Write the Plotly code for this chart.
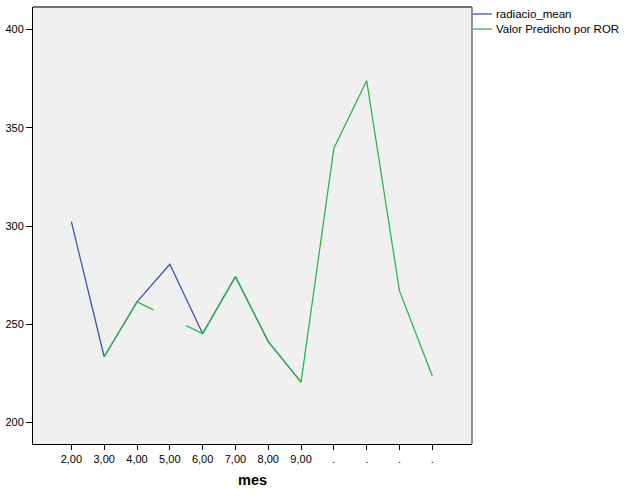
import plotly.graph_objects as go

# categorias del eje x (mes); los meses sin valor salen como "."
mes_labels = ["2,00", "3,00", "4,00", "5,00", "6,00", "7,00", "8,00", "9,00", ".", ".", ".", "."]
mes_pos = list(range(len(mes_labels)))

radiacio_mean = [302.2, 233.5, 261.4, 280.6, 245.3, 274.3, 241.2, 220.6, None, None, None, None]
valor_predicho = [None, 233.5, 261.4, None, 245.3, 274.3, 241.2, 220.6, 339.6, 374.0, 267.0, 223.7]

series_names = ["radiacio_mean", "Valor Predicho por ROR"]
azul = "#3E58AC"
verde = "#2EB848"


def con_tramos(xs, ys):
    # SPSS deja un trozo de linea a cada lado de un valor perdido
    out_x, out_y = [], []
    for i, (x, y) in enumerate(zip(xs, ys)):
        if y is not None:
            out_x.append(x)
            out_y.append(y)
            continue
        if 0 < i < len(ys) - 1 and ys[i - 1] is not None and ys[i + 1] is not None:
            a, b = ys[i - 1], ys[i + 1]
            out_x += [xs[i] - 0.5, None, xs[i] + 0.5]
            out_y += [a + (b - a) * 0.25, None, a + (b - a) * 0.75]
        else:
            out_x.append(x)
            out_y.append(None)
    return out_x, out_y


gx, gy = con_tramos(mes_pos, valor_predicho)

fig = go.Figure()
fig.add_trace(go.Scatter(x=mes_pos, y=radiacio_mean, mode="lines", name=series_names[0],
                         line=dict(color=azul, width=1.3), connectgaps=False, showlegend=False))
fig.add_trace(go.Scatter(x=gx, y=gy, mode="lines", name=series_names[1],
                         line=dict(color=verde, width=1.3), connectgaps=False, showlegend=False))

# marco superior y derecho en gris
fig.add_shape(type="line", xref="paper", yref="paper", x0=0, x1=1, y0=1, y1=1,
              line=dict(color="#707070", width=2))
fig.add_shape(type="line", xref="paper", yref="paper", x0=1, x1=1, y0=0, y1=1,
              line=dict(color="#707070", width=1.5))

# leyenda estilo SPSS (lineas cortas pegadas al texto)
for k, (nombre, color) in enumerate(zip(series_names, [azul, verde])):
    yy = 0.984 - k * 0.0345
    fig.add_shape(type="line", xref="paper", yref="paper", x0=1.0023, x1=1.0456, y0=yy, y1=yy,
                  line=dict(color=color, width=1.3))
    fig.add_annotation(xref="paper", yref="paper", x=1.050, y=yy, text=nombre,
                       showarrow=False, xanchor="left", yanchor="middle",
                       font=dict(size=11.5, color="#000000"))

fig.update_layout(
    width=629, height=504,
    margin=dict(l=33, r=157, t=7, b=60, autoexpand=False),
    plot_bgcolor="#F0F0F0", paper_bgcolor="white",
    font=dict(family="Liberation Sans, Arial, sans-serif", size=11, color="#000000"),
    showlegend=False,
    hovermode=False,
    xaxis=dict(range=[-1.17, 12.21], tickmode="array", tickvals=mes_pos, ticktext=mes_labels,
               showgrid=False, zeroline=False, showline=True, linecolor="#000000", linewidth=1,
               ticks="outside", ticklen=5, tickcolor="#000000", automargin=False,
               title=dict(text="<b>mes</b>", font=dict(size=14.5), standoff=10)),
    yaxis=dict(range=[189.1, 411.5], tickvals=[200, 250, 300, 350, 400],
               showgrid=False, zeroline=False, showline=True, linecolor="#000000", linewidth=1,
               ticks="outside", ticklen=6, tickcolor="#000000", automargin=False),
)

# quitar el margen de 8px del body para que la figura empiece en (0, 0)
fig.write_html("out.html", config={"displayModeBar": False},
               post_script="document.body.style.margin='0';")
